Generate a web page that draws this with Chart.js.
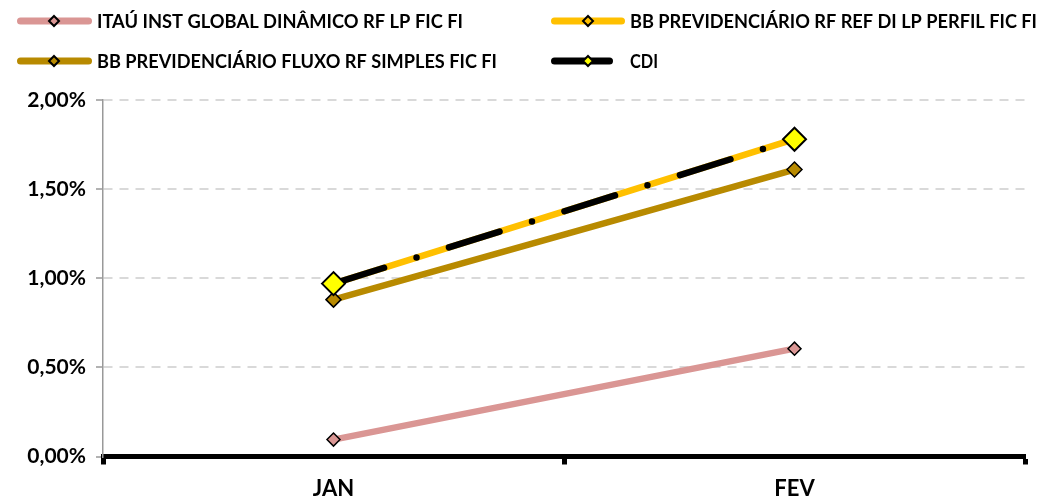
<!DOCTYPE html>
<html><head><meta charset="utf-8">
<script src="https://cdn.jsdelivr.net/npm/chart.js@4.4.0/dist/chart.umd.min.js"></script>
<style>html,body{margin:0;padding:0;background:#fff;overflow:hidden}#wrap{width:1042px;height:501px;position:relative}</style>
</head><body><div id="wrap"><canvas id="c"></canvas></div>
<script>
const categories = ['JAN', 'FEV'];
const itauValues = [0.095, 0.605];
const bbRefDiValues = [0.97, 1.78];
const bbFluxoValues = [0.88, 1.61];
const cdiValues = [0.97, 1.78];
const yTickValues = [0, 0.5, 1, 1.5, 2];
const seriesNames = ['ITAÚ INST GLOBAL DINÂMICO RF LP FIC FI', 'BB PREVIDENCIÁRIO RF REF DI LP PERFIL FIC FI', 'BB PREVIDENCIÁRIO FLUXO RF SIMPLES FIC FI', 'CDI'];

const FONT = 'Lato';
const fmt = v => v.toFixed(2).replace('.', ',') + '%';

const legendLayout = [
  {x: 17, y: 21, end: 92, mx: 54, tx: 97, tw: 366},
  {x: 551, y: 21, end: 625, mx: 588, tx: 630, tw: 407},
  {x: 17, y: 61, end: 92, mx: 54, tx: 97, tw: 400},
  {x: 551, y: 61, end: 613, mx: 588, tx: 630, tw: 28}
];

const legendPlugin = {
  id: 'customLegend',
  afterDraw(chart) {
    const ctx = chart.ctx;
    chart.data.datasets.forEach((ds, i) => {
      const L = legendLayout[i];
      ctx.save();
      ctx.lineCap = 'round';
      ctx.lineWidth = 7;
      ctx.strokeStyle = ds.borderColor;
      ctx.beginPath(); ctx.moveTo(L.x + 3.5, L.y); ctx.lineTo(L.end - 3.5, L.y); ctx.stroke();
      const r = 5;
      ctx.beginPath();
      ctx.moveTo(L.mx, L.y - r); ctx.lineTo(L.mx + r, L.y); ctx.lineTo(L.mx, L.y + r); ctx.lineTo(L.mx - r, L.y); ctx.closePath();
      ctx.fillStyle = ds.pointBackgroundColor; ctx.fill();
      ctx.lineWidth = 2; ctx.strokeStyle = '#000'; ctx.stroke();
      ctx.fillStyle = '#000';
      ctx.font = 'bold 19px ' + FONT;
      ctx.textBaseline = 'middle';
      ctx.textAlign = 'left';
      ctx.fillText(ds.label, L.tx, L.y + 1, L.tw);
      ctx.restore();
    });
  }
};

new Chart(document.getElementById('c'), {
  type: 'line',
  data: {
    labels: categories,
    datasets: [
      {label: seriesNames[0], data: itauValues, borderColor: '#DA9694', pointBackgroundColor: '#DA9694', pointRadius: 6.5, pointBorderWidth: 1.5, order: 4},
      {label: seriesNames[1], data: bbRefDiValues, borderColor: '#FFC000', pointBackgroundColor: '#FFC000', pointRadius: 6, pointBorderWidth: 1.5, order: 3},
      {label: seriesNames[2], data: bbFluxoValues, borderColor: '#B88A00', pointBackgroundColor: '#B88A00', pointRadius: 7.5, pointBorderWidth: 1.5, order: 2},
      {label: seriesNames[3], data: cdiValues, borderColor: '#000000', pointBackgroundColor: '#FFFF00', pointRadius: 11.5, pointBorderWidth: 2, borderDash: [53, 34, 0, 34], order: 1}
    ].map(d => Object.assign({borderWidth: 6.5, pointStyle: 'rectRot', pointBorderColor: '#000', tension: 0, borderCapStyle: 'round', fill: false}, d))
  },
  options: {
    responsive: true,
    maintainAspectRatio: false,
    animation: false,
    events: [],
    layout: {padding: {top: 100, right: 17, left: 0, bottom: 0}},
    plugins: {legend: {display: false}, tooltip: {enabled: false}},
    scales: {
      x: {
        offset: true,
        grid: {offset: true, drawOnChartArea: false, drawTicks: true, tickLength: 8, tickWidth: 5, tickColor: '#000'},
        border: {display: true, color: '#000', width: 5},
        ticks: {color: '#000', font: {family: FONT, weight: 'bold', size: 22}, padding: 11},
        afterFit: s => { s.height = 44.5; }
      },
      y: {
        min: 0, max: 2,
        afterBuildTicks: s => { s.ticks = yTickValues.map(v => ({value: v})); },
        grid: {color: '#D9D9D9', lineWidth: 2, tickColor: '#999', tickLength: 7, tickWidth: 1.5},
        border: {display: true, color: '#999', width: 1.5, dash: [9, 7]},
        ticks: {color: '#000', font: {family: FONT, weight: 'bold', size: 21}, padding: 10, callback: v => fmt(v)},
        afterFit: s => { s.width = 103; }
      }
    }
  },
  plugins: [legendPlugin]
});
</script>
</body></html>
